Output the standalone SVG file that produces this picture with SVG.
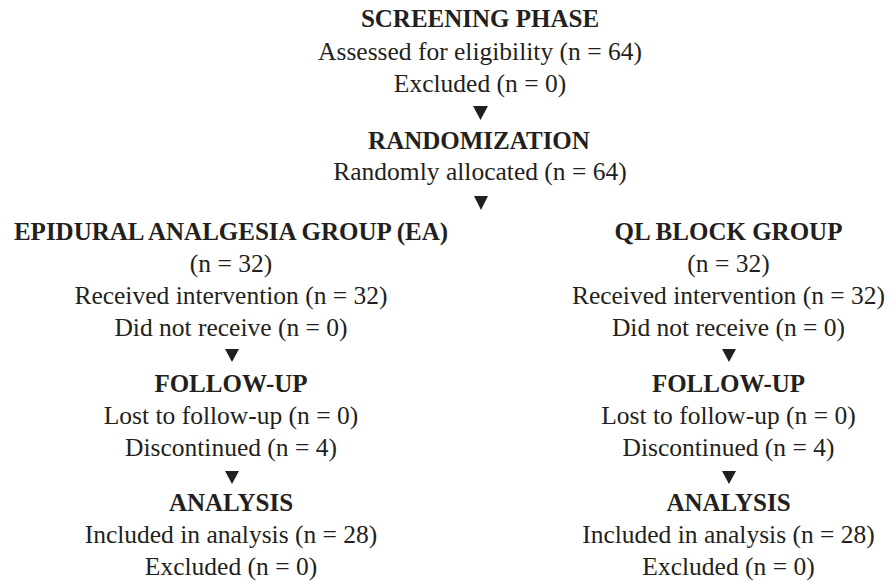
<svg xmlns="http://www.w3.org/2000/svg" width="892" height="582" viewBox="0 0 892 582">
<style>
text{font-family:"Liberation Serif","Times New Roman",serif;fill:#231f20;text-anchor:middle}
.h{font-weight:bold;font-size:25px}
.t{font-size:25.5px}
.tri{fill:#231f20}
</style>
<rect width="892" height="582" fill="#ffffff"/>
<g id="connectors">
<polygon class="tri" points="473,106 488,106 480.5,120"/>
<polygon class="tri" points="474,196 488,196 481,210"/>
<polygon class="tri" points="225,349 239,349 232,362"/>
<polygon class="tri" points="722,349 736,349 729,362"/>
<polygon class="tri" points="225,471 239,471 232,484"/>
<polygon class="tri" points="722,471 736,471 729,484"/>
</g>
<g id="screening">
<text class="h" x="480" y="27">SCREENING PHASE</text>
<text class="t" x="480" y="60">Assessed for eligibility (n = 64)</text>
<text class="t" x="480" y="92">Excluded (n = 0)</text>
</g>
<g id="randomization">
<text class="h" x="479" y="149">RANDOMIZATION</text>
<text class="t" x="480" y="180">Randomly allocated (n = 64)</text>
</g>
<g id="ea-group">
<text class="h" x="231" y="240">EPIDURAL ANALGESIA GROUP (EA)</text>
<text class="t" x="231" y="272">(n = 32)</text>
<text class="t" x="231" y="304">Received intervention (n = 32)</text>
<text class="t" x="231" y="336">Did not receive (n = 0)</text>
</g>
<g id="ql-group">
<text class="h" x="728.5" y="240">QL BLOCK GROUP</text>
<text class="t" x="728.5" y="272">(n = 32)</text>
<text class="t" x="728.5" y="304">Received intervention (n = 32)</text>
<text class="t" x="728.5" y="336">Did not receive (n = 0)</text>
</g>
<g id="ea-followup">
<text class="h" x="231" y="392">FOLLOW-UP</text>
<text class="t" x="231" y="424">Lost to follow-up (n = 0)</text>
<text class="t" x="231" y="456">Discontinued (n = 4)</text>
</g>
<g id="ql-followup">
<text class="h" x="728.5" y="392">FOLLOW-UP</text>
<text class="t" x="728.5" y="424">Lost to follow-up (n = 0)</text>
<text class="t" x="728.5" y="456">Discontinued (n = 4)</text>
</g>
<g id="ea-analysis">
<text class="h" x="231" y="511">ANALYSIS</text>
<text class="t" x="231" y="543">Included in analysis (n = 28)</text>
<text class="t" x="231" y="575">Excluded (n = 0)</text>
</g>
<g id="ql-analysis">
<text class="h" x="728.5" y="511">ANALYSIS</text>
<text class="t" x="728.5" y="543">Included in analysis (n = 28)</text>
<text class="t" x="728.5" y="575">Excluded (n = 0)</text>
</g>
</svg>
